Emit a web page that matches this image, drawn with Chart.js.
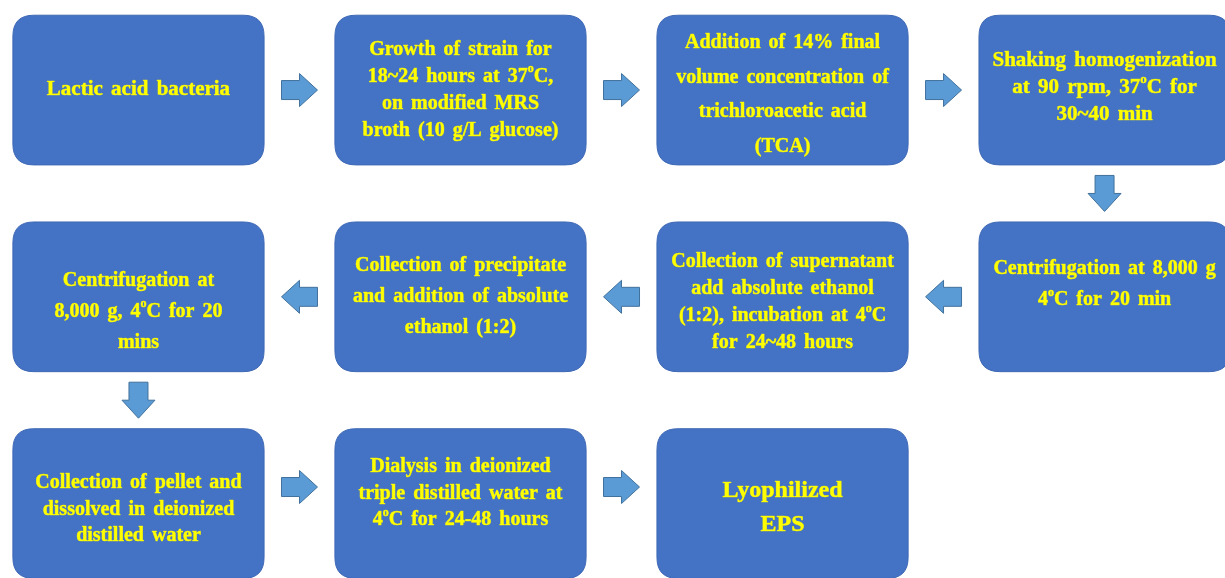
<!DOCTYPE html>
<html>
<head>
<meta charset="utf-8">
<script src="https://cdn.jsdelivr.net/npm/chart.js@4.4.1/dist/chart.umd.min.js"></script>
<style>
  html, body { margin: 0; padding: 0; background: #ffffff; }
  #wrap { width: 1225px; height: 578px; }
</style>
</head>
<body>
<div id="wrap"><canvas id="flow" width="1225" height="578"></canvas></div>
<script>
// Steps of the flow: grid column / row and the text lines ("^o" = superscript o)
const stepCols = [0, 1, 2, 3, 3, 2, 1, 0, 0, 1, 2];
const stepRows = [0, 0, 0, 0, 1, 1, 1, 1, 2, 2, 2];
const stepLabels = [
    ['Lactic acid bacteria'],
    ['Growth of strain for', '18~24 hours at 37^oC,', 'on modified MRS', 'broth (10 g/L glucose)'],
    ['Addition of 14% final', 'volume concentration of', 'trichloroacetic acid', '(TCA)'],
    ['Shaking homogenization', 'at 90 rpm, 37^oC for', '30~40 min'],
    ['Centrifugation at 8,000 g', '4^oC for 20 min'],
    ['Collection of supernatant', 'add absolute ethanol', '(1:2), incubation at 4^oC', 'for 24~48 hours'],
    ['Collection of precipitate', 'and addition of absolute', 'ethanol (1:2)'],
    ['Centrifugation at', '8,000 g, 4^oC for 20', 'mins'],
    ['Collection of pellet and', 'dissolved in deionized', 'distilled water'],
    ['Dialysis in deionized', 'triple distilled water at', '4^oC for 24-48 hours'],
    ['Lyophilized', 'EPS']
];

// Arrows between steps (grid positions and pointing direction)
const arrowX = [0.5, 1.5, 2.5, 3, 2.5, 1.5, 0.5, 0, 0.5, 1.5];
const arrowY = [0, 0, 0, 0.5, 1, 1, 1, 1.5, 1.92, 1.92];
const arrowDir = ['right', 'right', 'right', 'down', 'left', 'left', 'left', 'down', 'right', 'right'];

// Looks
const boxColor = '#4472C4';
const arrowFill = '#5B9BD5';
const arrowEdge = '#41719C';
const textColor = '#FFFF00';
const boxHalfW = 0.39;    // in column units
const boxHalfH = 0.362;   // in row units
const textShift = [0, 0, 5, -2, -12, 6, 0, 15, 6, -10, 4];
const lineGap = [27, 27, 34.5, 27, 31, 27, 31, 31, 26.5, 26.5, 34];
const fontSize = [21, 20, 20, 21, 20, 20, 20, 20, 20, 20, 24];

const stepPoints = stepCols.map((c, i) => ({ x: c, y: stepRows[i] }));
const arrowPoints = arrowX.map((x, i) => ({ x: x, y: arrowY[i], dir: arrowDir[i] }));

function roundRect(ctx, x, y, w, h, r) {
    ctx.beginPath();
    ctx.moveTo(x + r, y);
    ctx.lineTo(x + w - r, y);
    ctx.quadraticCurveTo(x + w, y, x + w, y + r);
    ctx.lineTo(x + w, y + h - r);
    ctx.quadraticCurveTo(x + w, y + h, x + w - r, y + h);
    ctx.lineTo(x + r, y + h);
    ctx.quadraticCurveTo(x, y + h, x, y + h - r);
    ctx.lineTo(x, y + r);
    ctx.quadraticCurveTo(x, y, x + r, y);
    ctx.closePath();
}

// draws one line centred on cx, handling "^o" superscripts
function drawLine(ctx, text, cx, y, size) {
    const parts = text.split(/\^(\w)/);
    const big = 'bold ' + size + 'px "Liberation Serif", "Times New Roman", serif';
    const small = 'bold ' + Math.round(size * 0.62) + 'px "Liberation Serif", "Times New Roman", serif';
    let total = 0;
    const widths = parts.map((p, i) => {
        ctx.font = i % 2 ? small : big;
        const w = ctx.measureText(p).width;
        total += w;
        return w;
    });
    let x = cx - total / 2;
    parts.forEach((p, i) => {
        ctx.font = i % 2 ? small : big;
        const yy = i % 2 ? y - size * 0.38 : y;
        ctx.strokeText(p, x, yy);
        ctx.fillText(p, x, yy);
        x += widths[i];
    });
}

function drawArrow(ctx, cx, cy, dir) {
    const len = 36, headW = 33, shaftW = 19, headL = 18;
    ctx.save();
    ctx.translate(cx, cy);
    const rot = { right: 0, down: Math.PI / 2, left: Math.PI, up: -Math.PI / 2 }[dir];
    ctx.rotate(rot);
    ctx.beginPath();
    ctx.moveTo(-len / 2, -shaftW / 2);
    ctx.lineTo(len / 2 - headL, -shaftW / 2);
    ctx.lineTo(len / 2 - headL, -headW / 2);
    ctx.lineTo(len / 2, 0);
    ctx.lineTo(len / 2 - headL, headW / 2);
    ctx.lineTo(len / 2 - headL, shaftW / 2);
    ctx.lineTo(-len / 2, shaftW / 2);
    ctx.closePath();
    ctx.fillStyle = arrowFill;
    ctx.fill();
    ctx.lineWidth = 1;
    ctx.strokeStyle = arrowEdge;
    ctx.stroke();
    ctx.restore();
}

const flowPlugin = {
    id: 'flowPlugin',
    afterDatasetsDraw(chart) {
        const ctx = chart.ctx;
        const xs = chart.scales.x, ys = chart.scales.y;

        // boxes + text
        chart.getDatasetMeta(0).data.forEach((pt, i) => {
            const c = stepCols[i], r = stepRows[i];
            const x0 = xs.getPixelForValue(c - boxHalfW), x1 = xs.getPixelForValue(c + boxHalfW);
            const y0 = ys.getPixelForValue(r - boxHalfH), y1 = ys.getPixelForValue(r + boxHalfH);
            ctx.save();
            roundRect(ctx, x0, y0, x1 - x0, y1 - y0, 21);
            ctx.fillStyle = boxColor;
            ctx.fill();
            ctx.lineWidth = 1;
            ctx.strokeStyle = '#3f69b5';
            ctx.stroke();

            const lines = stepLabels[i];
            const gap = lineGap[i];
            const top = pt.y + textShift[i] - gap * (lines.length - 1) / 2;
            ctx.fillStyle = textColor;
            ctx.strokeStyle = '#d8d820';
            ctx.lineWidth = 0.6;
            ctx.lineJoin = 'round';
            ctx.textAlign = 'left';
            ctx.textBaseline = 'middle';
            try { ctx.wordSpacing = '3px'; } catch (e) {}
            lines.forEach((ln, k) => drawLine(ctx, ln, pt.x, top + k * gap, fontSize[i]));
            ctx.restore();
        });

        // arrows
        chart.getDatasetMeta(1).data.forEach((pt, i) => {
            drawArrow(ctx, pt.x, pt.y, arrowPoints[i].dir);
        });
    }
};

new Chart(document.getElementById('flow'), {
    type: 'scatter',
    data: {
        datasets: [
            { label: 'Steps', data: stepPoints, pointRadius: 0, pointHoverRadius: 0 },
            { label: 'Arrows', data: arrowPoints, pointRadius: 0, pointHoverRadius: 0 }
        ]
    },
    options: {
        responsive: false,
        animation: false,
        layout: { padding: 0 },
        plugins: { legend: { display: false }, tooltip: { enabled: false } },
        scales: {
            x: { type: 'linear', display: false, min: -0.43, max: 3.374 },
            y: { type: 'linear', display: false, reverse: true, min: -0.4356, max: 2.360 }
        }
    },
    plugins: [flowPlugin]
});
</script>
</body>
</html>
